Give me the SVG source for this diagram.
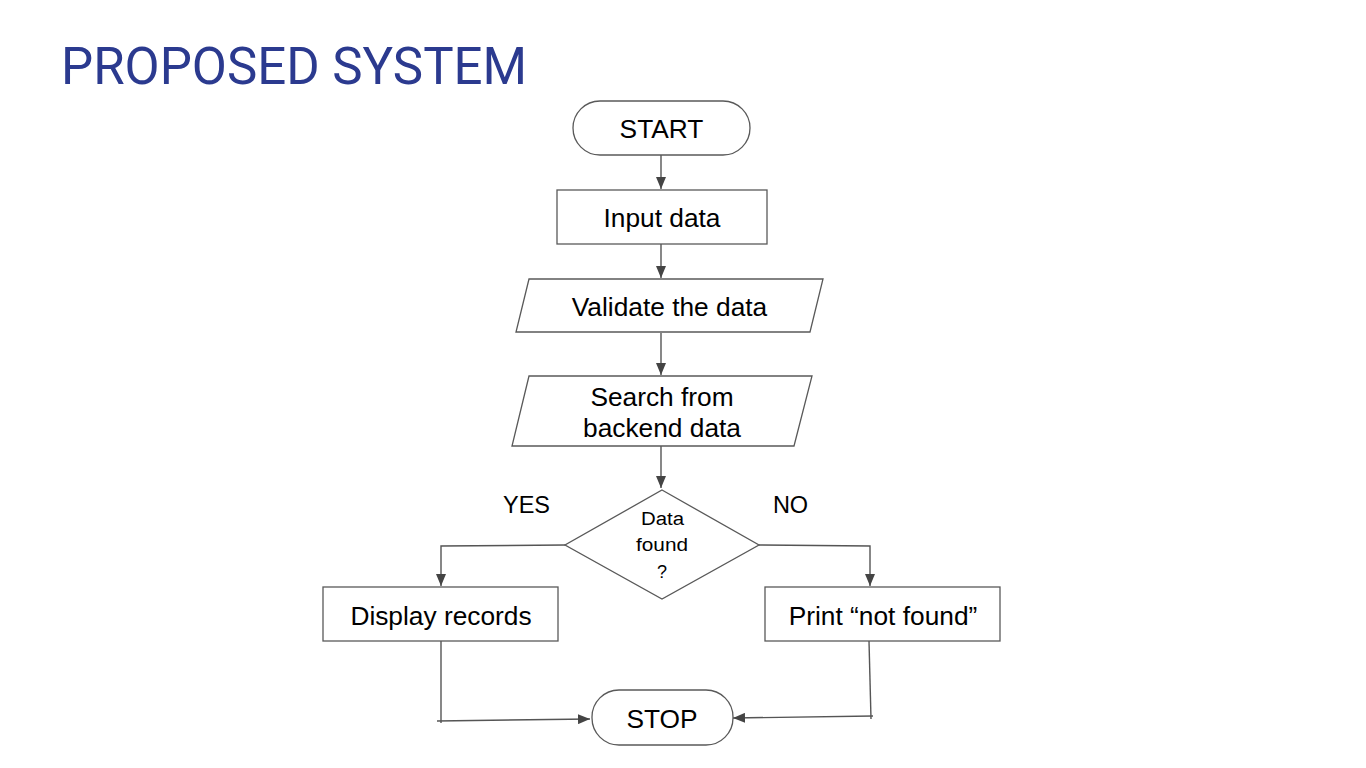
<svg xmlns="http://www.w3.org/2000/svg" width="1366" height="768" viewBox="0 0 1366 768">
<style>
.shape{fill:#ffffff;stroke:#595959;stroke-width:1.3}
.lbl{font-family:"Liberation Sans",Arial,sans-serif;font-size:26.3px;fill:#000;text-anchor:middle}
.small{font-size:18px}
.yn{font-size:23.5px}
.conn{fill:none;stroke:#555555;stroke-width:1.4}
.title{font-family:Roboto,"Liberation Sans",sans-serif;font-size:51px;fill:#2b3a8f}
</style>
<defs>
<marker id="ah" viewBox="0 0 12 10" refX="12" refY="5" markerWidth="12" markerHeight="10" markerUnits="userSpaceOnUse" orient="auto">
<path d="M0,0 L12,5 L0,10 Z" fill="#444444"/>
</marker>
</defs>
<rect width="1366" height="768" fill="#ffffff"/>
<text class="title" x="61" y="84">PROPOSED SYSTEM</text>
<g id="connectors">
<line class="conn" x1="661" y1="155" x2="661" y2="189" marker-end="url(#ah)"/>
<line class="conn" x1="661" y1="244" x2="661" y2="278" marker-end="url(#ah)"/>
<line class="conn" x1="661" y1="333" x2="661" y2="375" marker-end="url(#ah)"/>
<line class="conn" x1="661" y1="446" x2="661" y2="488" marker-end="url(#ah)"/>
<polyline class="conn" points="565,545 441,546 441,586" marker-end="url(#ah)"/>
<polyline class="conn" points="759,545 870,546 870,586" marker-end="url(#ah)"/>
<polyline class="conn" points="441,641 441,723"/>
<line class="conn" x1="437" y1="721" x2="590" y2="719" marker-end="url(#ah)"/>
<polyline class="conn" points="869,641 871,719"/>
<line class="conn" x1="873" y1="716" x2="733" y2="718" marker-end="url(#ah)"/>
</g>
<g id="start">
<rect class="shape" x="573" y="101" width="177" height="54" rx="27"/>
<text class="lbl" x="661.5" y="137.5">START</text>
</g>
<g id="input">
<rect class="shape" x="557" y="190" width="210" height="54"/>
<text class="lbl" x="662" y="226.5">Input data</text>
</g>
<g id="validate">
<polygon class="shape" points="529,279 823,279 810,332 516,332"/>
<text class="lbl" x="669.5" y="315.5">Validate the data</text>
</g>
<g id="search">
<polygon class="shape" points="529,376 812,376 794,446 512,446"/>
<text class="lbl" x="662" y="405.5">Search from</text>
<text class="lbl" x="662" y="436.5">backend data</text>
</g>
<g id="decision">
<polygon class="shape" points="662,490 759,545 662,599 565,545"/>
<text class="lbl small" x="662.5" y="525" textLength="43" lengthAdjust="spacingAndGlyphs">Data</text>
<text class="lbl small" x="662" y="551" textLength="52" lengthAdjust="spacingAndGlyphs">found</text>
<text class="lbl small" x="662" y="578">?</text>
</g>
<text class="lbl yn" x="526.5" y="512.5">YES</text>
<text class="lbl yn" x="790.5" y="512.5">NO</text>
<g id="display">
<rect class="shape" x="323" y="587" width="235" height="54"/>
<text class="lbl" x="441" y="624.5">Display records</text>
</g>
<g id="notfound">
<rect class="shape" x="765" y="587" width="235" height="54"/>
<text class="lbl" x="883" y="624.5">Print “not found”</text>
</g>
<g id="stop">
<rect class="shape" x="592" y="690" width="141" height="55" rx="27"/>
<text class="lbl" x="662" y="727.5">STOP</text>
</g>
</svg>
